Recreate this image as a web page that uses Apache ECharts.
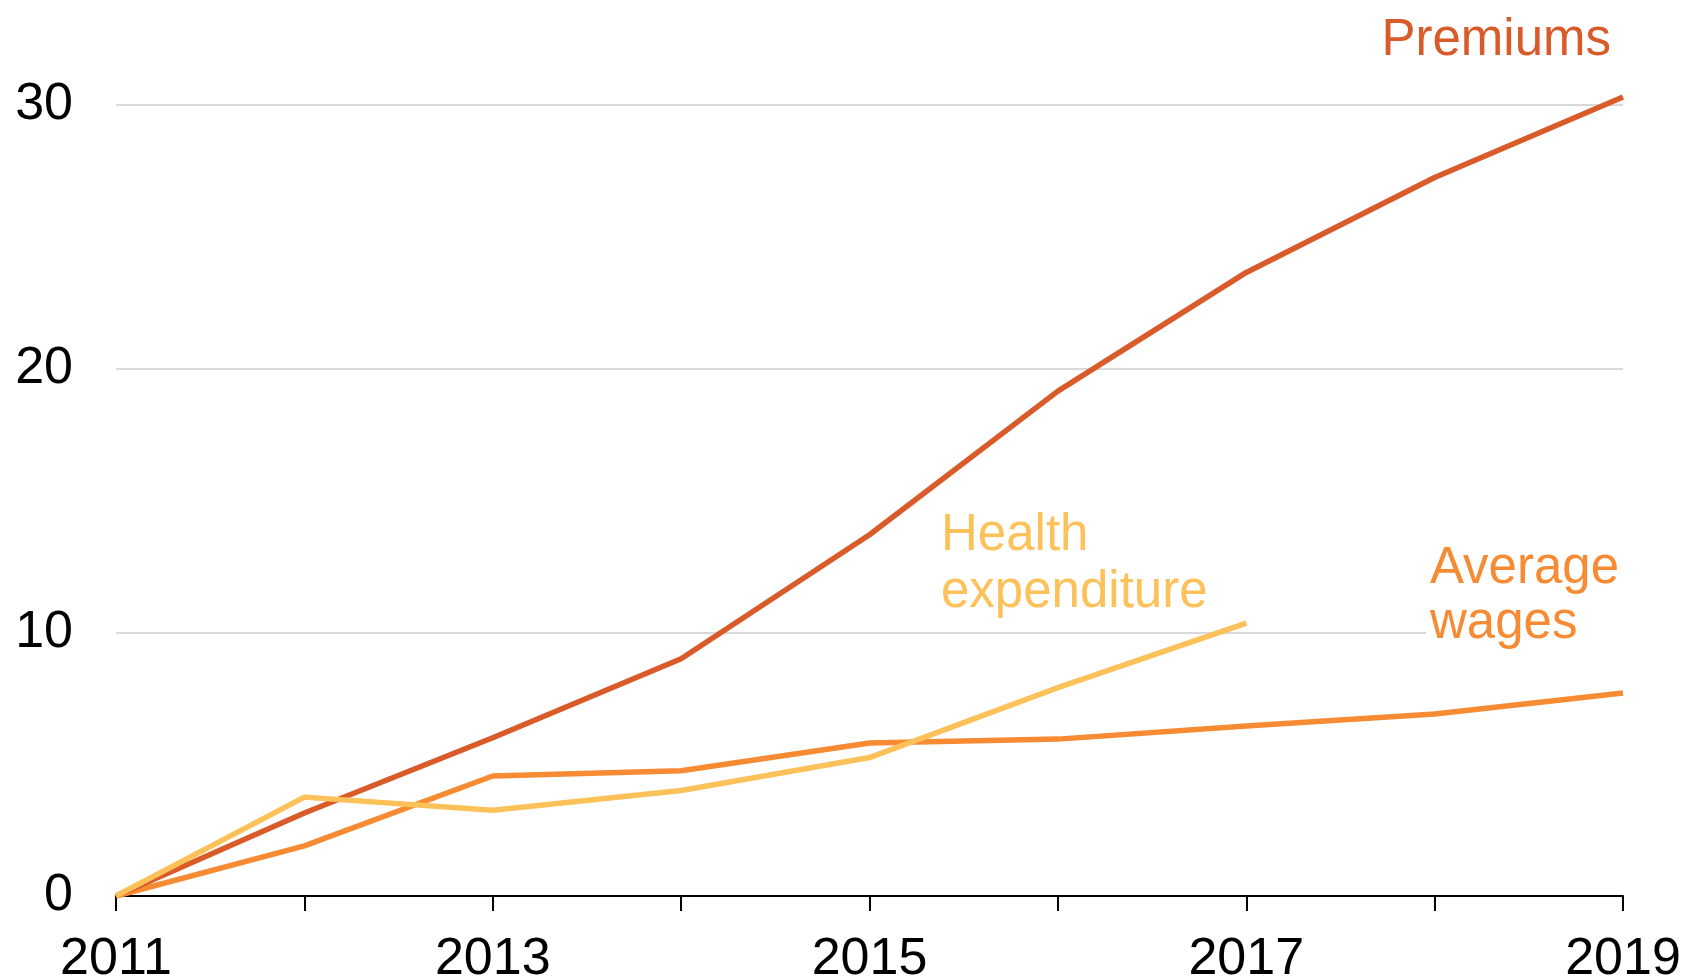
<!DOCTYPE html>
<html>
<head>
<meta charset="utf-8">
<script src="https://cdn.jsdelivr.net/npm/echarts@6/dist/echarts.min.js"></script>
<style>
    html, body { margin: 0; padding: 0; background: #fff; }
    #chart { width: 1686px; height: 978px; }
</style>
</head>
<body>
<div id="chart"></div>
<script>
// data (cumulative % change since 2011)
var years = ['2011', '2012', '2013', '2014', '2015', '2016', '2017', '2018', '2019'];
var premiums = [0, 3.15, 6.0, 9.0, 13.7, 19.15, 23.65, 27.25, 30.3];
var avgWages = [0, 1.9, 4.55, 4.75, 5.8, 5.95, 6.45, 6.9, 7.7];
var healthExp = [0, 3.75, 3.25, 4.0, 5.25, 7.9, 10.35];
var yTicks = [0, 10, 20, 30];

var labelFont = '"Liberation Sans", Arial, sans-serif';

var chart = echarts.init(document.getElementById('chart'));

var option = {
    animation: false,
    grid: {
        left: 116,
        right: 63,
        top: 105,
        bottom: 82,
        outerBoundsMode: 'none',
        containLabel: false
    },
    xAxis: {
        type: 'category',
        boundaryGap: false,
        data: years,
        axisLine: { lineStyle: { color: '#000', width: 2 } },
        axisTick: {
            show: true,
            length: 15,
            interval: 0,
            lineStyle: { color: '#000', width: 2 }
        },
        axisLabel: {
            interval: 1,
            margin: 38,
            color: '#000',
            fontSize: 52,
            fontFamily: labelFont
        },
        splitLine: { show: false }
    },
    yAxis: {
        type: 'value',
        min: yTicks[0],
        max: yTicks[yTicks.length - 1],
        interval: 10,
        axisLine: { show: false },
        axisTick: { show: false },
        axisLabel: {
            margin: 43,
            color: '#000',
            fontSize: 52,
            fontFamily: labelFont
        },
        splitLine: { lineStyle: { color: '#d9d9d9', width: 2 } }
    },
    series: [
        {
            name: 'Average wages',
            type: 'line',
            data: avgWages,
            clip: false,
            symbol: 'none',
            lineStyle: { color: '#f68b33', width: 5.5 }
        },
        {
            name: 'Premiums',
            type: 'line',
            data: premiums,
            clip: false,
            symbol: 'none',
            lineStyle: { color: '#d95b2a', width: 5.5 }
        },
        {
            name: 'Health expenditure',
            type: 'line',
            data: healthExp,
            clip: false,
            symbol: 'none',
            lineStyle: { color: '#fdc15a', width: 5.5 }
        }
    ],
    graphic: [
        {
            type: 'text',
            right: 75,
            top: 15,
            z: 100,
            style: {
                text: 'Premiums',
                fill: '#d95b2a',
                fontSize: 51,
                fontFamily: labelFont
            }
        },
        {
            type: 'text',
            left: 941,
            top: 507,
            z: 100,
            style: {
                text: 'Health\nexpenditure',
                fill: '#fdc15a',
                fontSize: 51,
                lineHeight: 57,
                fontFamily: labelFont
            }
        },
        {
            type: 'text',
            left: 1426,
            top: 541,
            z: 100,
            style: {
                text: 'Average\nwages',
                fill: '#f68b33',
                fontSize: 51,
                lineHeight: 55,
                fontFamily: labelFont,
                backgroundColor: '#fff',
                padding: [0, 12, 0, 4]
            }
        }
    ]
};

chart.setOption(option);
</script>
</body>
</html>
